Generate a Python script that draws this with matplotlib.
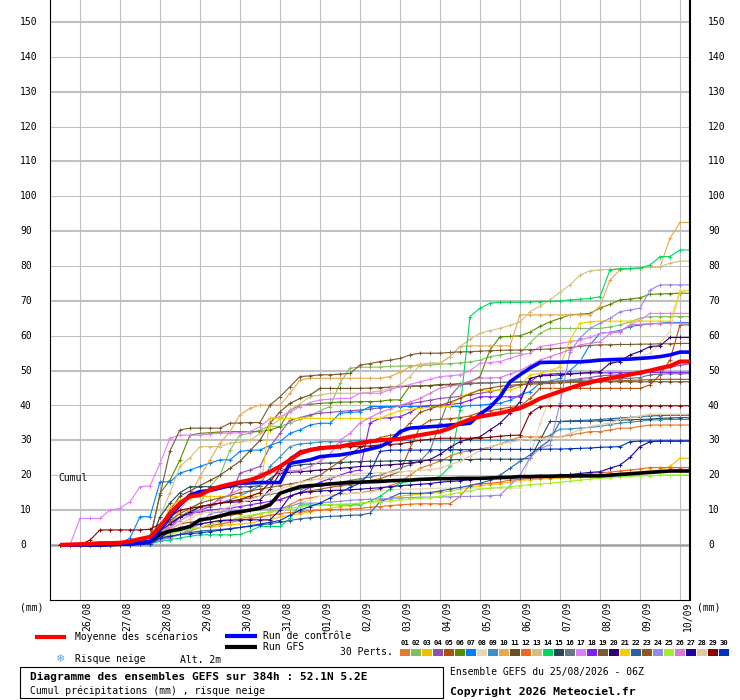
import matplotlib
matplotlib.use("Agg")
import matplotlib.pyplot as plt
from matplotlib.lines import Line2D
from matplotlib.patches import Rectangle

# ---------------- data ----------------
hours = list(range(6, 385, 6))          # forecast step (h) from 25/08 06Z
day_labels = ['26/08', '27/08', '28/08', '29/08', '30/08', '31/08', '01/09', '02/09',
              '03/09', '04/09', '05/09', '06/09', '07/09', '08/09', '09/09', '10/09']
y_ticks = [0, 10, 20, 30, 40, 50, 60, 70, 80, 90, 100, 110, 120, 130, 140, 150]

mean = [0, 0.1, 0.2, 0.3, 0.5, 0.5, 0.6, 1.0,
        1.7, 2.3, 5.2, 9.0, 12.0, 13.9, 14.3, 15.8,
        16.7, 17.4, 18.0, 18.6, 19.6, 21.0, 22.5, 24.4,
        26.3, 27.2, 27.7, 28.0, 28.2, 28.8, 29.2, 29.7,
        30.0, 30.2, 30.4, 31.0, 31.5, 32.0, 32.5, 33.5,
        34.9, 36.0, 36.8, 37.3, 37.8, 38.5, 39.2, 40.5,
        42.0, 43.0, 44.0, 45.0, 45.9, 46.6, 47.3, 47.8,
        48.3, 48.9, 49.4, 50.0, 50.7, 51.3, 52.6, 52.6]
control = [0, 0, 0, 0, 0, 0.1, 0.2, 0.3,
           0.5, 1.0, 4.3, 8.1, 11.5, 14.3, 15.3, 15.6,
           16.3, 17.0, 17.7, 17.8, 17.9, 17.9, 17.9, 23.4,
           23.9, 24.4, 25.3, 25.6, 25.8, 26.3, 26.8, 27.5,
           28.2, 29.6, 32.5, 33.5, 33.7, 33.9, 34.1, 34.4,
           34.6, 34.9, 37.5, 39.5, 42.5, 46.8, 48.8, 50.7,
           52.3, 52.4, 52.4, 52.5, 52.5, 52.7, 53.0, 53.1,
           53.2, 53.3, 53.5, 53.7, 54.0, 54.5, 55.3, 55.3]
gfs = [0, 0, 0, 0, 0, 0.1, 0.2, 0.3,
       0.5, 1.0, 3.0, 4.0, 4.5, 5.3, 7.2, 7.6,
       8.3, 9.1, 9.5, 10.0, 10.5, 11.5, 14.8, 15.8,
       16.7, 17.0, 17.2, 17.5, 17.7, 17.9, 18.0, 18.1,
       18.2, 18.4, 18.5, 18.6, 18.8, 18.9, 19.0, 19.0,
       19.1, 19.1, 19.1, 19.2, 19.3, 19.4, 19.6, 19.6,
       19.7, 19.7, 19.8, 19.8, 19.8, 19.8, 19.8, 20.0,
       20.2, 20.4, 20.6, 20.8, 21.0, 21.2, 21.2, 21.2]

p01 = [0, 0, 0, 0, 0, 0, 0.1, 0.2, 0.3, 0.5, 2.0, 3.5, 4.5, 5.0, 6.0, 6.5,
       7.0, 7.2, 7.5, 8.1, 9.0, 9.5, 10.0, 11.5, 13.0, 13.5, 14.0, 14.2, 14.5, 14.8, 15.0, 15.5,
       16.0, 17.0, 18.0, 20.0, 22.0, 23.0, 24.0, 25.5, 26.5, 27.0, 27.5, 28.0, 29.0, 30.0, 31.0, 31.0,
       31.0, 31.0, 31.0, 31.5, 32.0, 32.5, 32.5, 33.0, 33.5, 33.5, 34.0, 34.4, 34.4, 34.4, 34.4, 34.4]
p02 = [0, 0, 0, 0, 0, 0, 0.1, 0.3, 0.5, 1.0, 4.0, 7.0, 8.1, 10.0, 12.0, 16.7,
       20.0, 27.2, 31.5, 32.0, 33.0, 34.0, 34.0, 35.0, 36.0, 37.0, 38.5, 39.7, 46.4, 50.7, 51.0, 51.0,
       51.0, 51.2, 51.3, 51.4, 51.4, 51.6, 51.8, 52.0, 52.2, 52.5, 53.0, 54.0, 54.5, 55.0, 55.0, 58.0,
       60.7, 62.1, 62.1, 62.1, 62.1, 62.1, 62.1, 62.5, 63.1, 64.0, 65.0, 65.5, 65.5, 65.5, 65.5, 65.5]
p03 = [0, 0, 0, 0, 0, 0, 0, 0.1, 0.2, 0.3, 2.0, 3.0, 4.0, 4.5, 5.0, 5.2,
       5.5, 5.8, 6.0, 6.3, 6.8, 7.2, 8.0, 8.5, 9.0, 9.5, 10.0, 10.5, 11.0, 11.3, 12.0, 12.3,
       12.8, 13.3, 14.0, 14.3, 14.6, 14.8, 15.0, 15.5, 16.0, 16.5, 17.0, 17.3, 17.6, 18.0, 18.5, 18.7,
       18.9, 19.0, 19.1, 19.3, 19.5, 19.8, 20.0, 20.3, 20.6, 20.8, 21.0, 21.3, 21.5, 22.5, 24.9, 24.9]
p04 = [0, 0, 0, 0, 0, 0, 0.1, 0.2, 0.3, 0.5, 3.0, 6.0, 8.0, 9.0, 10.0, 11.0,
       13.5, 14.0, 20.6, 21.5, 22.5, 28.2, 32.0, 35.8, 36.5, 37.3, 37.8, 38.0, 38.3, 38.5, 38.7, 39.0,
       39.3, 39.6, 40.0, 40.5, 41.0, 41.5, 42.0, 42.3, 42.6, 43.0, 43.5, 44.0, 44.5, 45.2, 46.0, 46.3,
       46.6, 46.8, 47.0, 47.3, 47.7, 48.0, 48.5, 48.7, 48.8, 48.9, 49.0, 49.8, 50.5, 51.0, 51.5, 52.0]
p05 = [0, 0, 0, 0, 0, 0, 0.1, 0.2, 0.3, 0.5, 3.0, 4.5, 6.0, 6.5, 7.0, 7.5,
       8.0, 8.5, 9.0, 10.0, 11.0, 12.0, 13.0, 14.0, 15.0, 15.5, 16.0, 16.5, 17.0, 17.3, 18.0, 18.5,
       19.0, 20.0, 21.0, 27.7, 33.9, 35.8, 36.0, 36.2, 36.5, 37.0, 38.0, 38.5, 39.0, 39.5, 39.7, 42.0,
       44.9, 44.9, 44.9, 44.9, 44.9, 44.9, 44.9, 44.9, 44.9, 44.9, 44.9, 45.9, 48.8, 53.0, 63.1, 63.1]
p06 = [0, 0, 0, 0, 0, 0, 0.1, 0.3, 0.5, 1.0, 14.8, 18.6, 24.4, 31.5, 32.0, 32.2,
       32.4, 32.5, 32.5, 32.5, 32.5, 33.0, 33.9, 38.7, 40.0, 40.3, 40.6, 40.8, 41.0, 41.0, 41.1, 41.1,
       41.2, 41.6, 41.6, 45.6, 45.6, 45.7, 45.9, 45.9, 46.2, 46.8, 48.3, 55.9, 59.7, 59.8, 60.0, 61.0,
       62.7, 64.0, 65.0, 66.0, 66.2, 66.4, 67.9, 69.0, 70.3, 70.5, 70.9, 71.9, 72.0, 72.1, 72.2, 72.2]
p07 = [0, 0, 0, 0, 0, 0, 0.3, 2.0, 8.1, 8.1, 18.1, 18.1, 20.6, 21.5, 22.5, 23.5,
       24.4, 24.4, 26.8, 27.2, 27.2, 28.5, 29.6, 32.0, 33.0, 34.4, 34.9, 34.9, 37.8, 38.0, 38.2, 39.7,
       39.7, 39.7, 39.7, 39.7, 39.7, 39.7, 39.7, 39.7, 39.7, 40.0, 40.1, 40.4, 40.6, 41.5, 43.0, 44.0,
       46.4, 47.0, 47.8, 50.0, 52.6, 57.4, 60.7, 61.0, 61.5, 62.6, 63.1, 63.4, 63.6, 63.8, 63.8, 63.8]
p08 = [0, 0, 0, 0, 0, 0, 0, 0.1, 0.2, 0.5, 2.0, 3.0, 4.0, 4.5, 5.0, 5.5,
       6.0, 6.5, 7.0, 7.5, 8.0, 9.0, 10.0, 11.0, 12.0, 13.0, 14.0, 14.3, 14.5, 14.8, 15.0, 15.2,
       15.5, 15.8, 16.0, 16.0, 16.1, 16.2, 16.3, 16.3, 16.3, 16.3, 16.3, 16.3, 16.3, 16.3, 16.3, 25.3,
       34.9, 42.0, 52.1, 52.6, 53.0, 53.2, 53.5, 53.6, 53.8, 53.9, 54.0, 55.0, 57.8, 61.2, 73.0, 73.0]
p09 = [0, 0, 0, 0, 0, 0, 0.1, 0.2, 0.3, 0.5, 3.0, 6.0, 8.0, 9.0, 10.0, 11.0,
       12.0, 13.0, 14.0, 15.5, 17.0, 22.5, 25.3, 28.2, 29.0, 29.2, 29.6, 29.6, 29.6, 29.8, 30.0, 30.0,
       30.0, 30.0, 30.0, 30.0, 30.0, 30.0, 30.0, 30.0, 30.0, 30.0, 30.0, 30.0, 30.0, 30.0, 30.0, 30.0,
       30.1, 31.5, 33.2, 33.3, 33.5, 33.7, 34.0, 34.5, 35.0, 35.2, 35.5, 35.8, 35.9, 36.0, 36.0, 36.0]
p10 = [0, 0, 0, 0, 0, 0, 0.1, 0.2, 0.3, 0.5, 3.0, 6.0, 10.0, 14.0, 19.6, 24.4,
       29.2, 32.5, 37.3, 39.2, 40.1, 40.1, 40.1, 43.5, 47.3, 47.8, 47.8, 47.8, 47.8, 47.8, 47.8, 47.8,
       47.8, 48.3, 49.5, 51.1, 51.8, 52.1, 52.1, 54.0, 56.9, 57.1, 57.1, 57.1, 57.1, 57.1, 66.0, 66.0,
       66.0, 66.0, 66.0, 66.0, 66.0, 66.0, 68.4, 76.0, 78.9, 79.2, 79.4, 79.6, 79.8, 88.0, 92.5, 92.5]
p11 = [0, 0, 0, 0, 0, 0, 0.1, 0.3, 0.5, 1.0, 5.0, 10.0, 14.0, 15.5, 17.0, 18.5,
       20.0, 22.0, 24.0, 27.0, 30.0, 34.9, 38.2, 40.6, 42.0, 43.0, 44.9, 44.9, 44.9, 44.9, 44.9, 45.0,
       45.1, 45.3, 45.4, 45.5, 45.6, 45.7, 46.0, 46.1, 46.2, 46.3, 46.5, 46.5, 46.6, 46.6, 46.7, 46.7,
       46.7, 46.7, 46.8, 46.8, 46.8, 46.8, 46.8, 46.8, 46.8, 46.8, 46.8, 46.8, 46.8, 46.8, 46.8, 46.8]
p12 = [0, 0, 0, 0, 0, 0, 0, 0.1, 0.2, 0.5, 2.0, 2.5, 3.0, 4.0, 5.0, 5.5,
       6.0, 6.5, 7.0, 7.5, 8.0, 8.5, 9.0, 9.3, 9.5, 9.8, 10.0, 10.1, 10.2, 10.3, 10.5, 10.8,
       11.0, 11.3, 11.5, 11.7, 11.8, 11.8, 11.8, 11.8, 13.9, 17.2, 17.5, 17.7, 18.0, 18.6, 18.8, 19.1,
       19.2, 19.3, 19.4, 19.6, 20.0, 20.6, 20.7, 20.9, 21.2, 21.5, 21.8, 22.2, 22.2, 22.2, 22.2, 22.2]
p13 = [0, 0, 0, 0, 0, 0, 0.1, 0.3, 0.5, 1.0, 8.0, 15.0, 22.5, 25.0, 28.2, 28.2,
       28.2, 29.2, 29.5, 30.0, 32.0, 34.0, 36.0, 38.7, 40.5, 42.5, 43.0, 43.5, 43.5, 43.5, 43.5, 43.8,
       44.2, 44.9, 46.0, 48.3, 51.6, 52.1, 52.1, 54.0, 56.9, 59.0, 60.7, 61.5, 62.1, 63.0, 64.0, 66.9,
       68.5, 70.3, 72.5, 74.6, 77.4, 78.6, 78.9, 79.0, 79.2, 79.3, 79.5, 79.6, 79.8, 80.8, 81.4, 81.4]
p14 = [0, 0, 0, 0, 0, 0, 0, 0.1, 0.2, 0.3, 1.0, 1.5, 2.0, 2.5, 2.9, 2.9,
       2.9, 2.9, 3.0, 4.0, 5.3, 5.3, 5.3, 7.6, 11.5, 11.5, 11.5, 11.5, 11.5, 11.5, 11.5, 12.5,
       13.9, 16.0, 17.7, 18.2, 18.6, 19.0, 19.6, 22.5, 38.7, 65.5, 67.9, 69.3, 69.6, 69.6, 69.6, 69.7,
       69.8, 69.9, 70.0, 70.3, 70.5, 70.7, 71.2, 78.9, 79.2, 79.3, 79.4, 80.3, 82.7, 82.7, 84.6, 84.6]
p15 = [0, 0, 0, 0, 0, 0, 0.1, 0.2, 0.3, 0.5, 8.0, 12.0, 15.0, 16.7, 16.7, 16.7,
       16.7, 16.7, 16.7, 16.7, 17.0, 19.0, 21.0, 22.5, 23.0, 23.2, 23.4, 23.5, 23.6, 23.8, 23.9, 24.0,
       24.0, 24.1, 24.2, 24.2, 24.3, 24.3, 24.4, 24.4, 24.5, 24.5, 24.6, 24.6, 24.6, 24.6, 24.6, 24.8,
       30.0, 35.4, 35.4, 35.4, 35.5, 35.5, 35.6, 35.7, 35.8, 35.9, 36.0, 36.1, 36.3, 36.4, 36.5, 36.5]
p16 = [0, 0, 0, 0, 0, 0, 0.1, 0.2, 0.3, 0.5, 5.0, 6.5, 8.0, 9.0, 11.0, 11.5,
       12.0, 12.5, 13.0, 13.5, 14.0, 14.5, 15.0, 15.5, 16.0, 16.5, 17.0, 17.5, 18.0, 18.5, 19.0, 19.5,
       20.0, 21.0, 22.0, 23.0, 24.0, 27.0, 35.0, 42.5, 45.9, 46.2, 46.4, 46.5, 46.6, 46.7, 46.8, 46.8,
       46.9, 46.9, 47.0, 47.1, 47.2, 47.3, 47.5, 47.6, 47.7, 47.8, 48.0, 48.8, 49.0, 49.1, 49.1, 49.1]
p17 = [0, 0, 7.6, 7.6, 7.6, 10.0, 10.5, 12.4, 16.7, 16.9, 23.4, 30.6, 31.5, 31.5, 31.5, 31.8,
       32.0, 32.1, 32.2, 32.5, 33.9, 36.3, 36.8, 38.0, 39.7, 40.8, 41.6, 41.8, 42.0, 42.0, 43.5, 43.5,
       43.5, 44.5, 45.4, 46.0, 46.8, 47.5, 48.3, 48.5, 48.8, 50.0, 52.1, 52.3, 52.6, 53.5, 54.5, 55.0,
       56.9, 57.3, 57.8, 58.3, 58.8, 59.5, 60.7, 61.0, 61.2, 63.1, 64.5, 66.4, 66.4, 66.4, 66.4, 66.4]
p18 = [0, 0, 0, 0, 0, 0, 0.1, 0.2, 0.3, 0.5, 3.0, 5.0, 8.0, 9.0, 9.5, 10.0,
       10.3, 10.6, 11.0, 11.5, 12.0, 12.5, 13.0, 14.0, 15.0, 16.5, 18.0, 19.0, 20.0, 21.0, 21.5, 35.0,
       36.3, 36.5, 36.8, 38.0, 39.7, 40.0, 40.1, 40.3, 40.6, 41.5, 42.5, 42.5, 42.5, 42.5, 42.5, 46.8,
       48.8, 49.0, 49.2, 49.2, 49.3, 49.3, 49.3, 49.4, 49.4, 49.4, 49.5, 49.5, 49.5, 49.5, 49.5, 49.5]
p19 = [0, 0, 0, 0, 0, 0, 0.2, 0.5, 1.0, 2.0, 14.3, 27.0, 33.0, 33.5, 33.5, 33.5,
       33.5, 34.9, 35.0, 35.1, 35.1, 40.1, 42.5, 45.4, 48.3, 48.5, 48.8, 48.8, 49.0, 49.2, 51.6, 52.0,
       52.6, 53.0, 53.5, 54.5, 55.0, 55.0, 55.0, 55.2, 55.4, 55.4, 55.6, 55.7, 55.8, 55.9, 55.9, 56.0,
       56.1, 56.2, 56.4, 56.6, 57.0, 57.2, 57.4, 57.4, 57.5, 57.5, 57.6, 57.6, 57.7, 57.7, 57.8, 57.8]
p20 = [0, 0, 0, 0, 0, 0, 0.1, 0.2, 0.3, 0.5, 4.0, 6.0, 8.0, 9.5, 11.0, 11.5,
       12.0, 12.2, 12.4, 12.6, 12.9, 16.0, 20.6, 20.8, 21.0, 21.2, 21.5, 21.7, 22.0, 22.2, 22.5, 22.6,
       22.8, 23.0, 23.2, 23.5, 23.9, 24.5, 26.0, 28.0, 29.6, 30.5, 31.0, 33.0, 34.9, 37.8, 41.0, 47.8,
       48.5, 48.6, 48.8, 49.0, 49.2, 49.5, 49.7, 52.1, 52.6, 54.5, 55.5, 56.9, 57.1, 59.5, 59.5, 59.5]
p21 = [0, 0, 0, 0, 0, 0, 0.1, 0.2, 0.3, 0.5, 4.3, 11.0, 12.9, 13.5, 13.9, 13.9,
       13.9, 13.9, 13.9, 13.9, 14.8, 36.3, 36.3, 36.3, 36.3, 36.3, 36.3, 36.3, 36.3, 36.3, 36.3, 36.3,
       36.3, 37.5, 38.5, 38.9, 39.2, 39.5, 39.7, 39.7, 42.5, 43.5, 44.4, 44.4, 44.4, 44.4, 45.4, 48.8,
       49.2, 50.0, 51.1, 58.8, 63.6, 64.0, 64.2, 64.2, 64.2, 64.2, 64.2, 64.2, 64.2, 64.2, 72.6, 73.1]
p22 = [0, 0, 0, 0, 0, 0, 0, 0.1, 0.2, 0.3, 1.5, 2.2, 3.0, 3.5, 4.0, 4.2,
       4.4, 4.7, 5.0, 5.3, 5.7, 6.1, 6.5, 7.0, 7.5, 7.8, 8.0, 8.2, 8.3, 8.5, 8.6, 9.1,
       12.4, 13.5, 14.8, 14.8, 14.8, 15.0, 15.5, 16.0, 16.5, 17.0, 17.7, 18.5, 20.0, 22.0, 24.0, 25.8,
       28.0, 30.1, 35.4, 35.6, 35.7, 35.8, 36.0, 36.2, 36.4, 36.6, 36.8, 37.0, 37.1, 37.2, 37.2, 37.2]
p23 = [0, 0, 0, 0, 0, 0, 0.1, 0.2, 0.3, 0.5, 4.0, 7.0, 9.0, 10.5, 12.0, 12.8,
       13.5, 14.2, 15.0, 15.5, 16.0, 16.5, 17.0, 17.5, 18.0, 19.0, 20.0, 22.0, 24.0, 26.0, 28.0, 29.5,
       30.8, 31.4, 32.0, 35.0, 38.0, 39.0, 40.0, 41.0, 42.0, 43.3, 44.5, 45.0, 45.5, 45.8, 46.0, 46.1,
       46.2, 46.3, 46.5, 46.6, 46.7, 46.8, 47.0, 47.0, 47.1, 47.2, 47.3, 47.4, 47.5, 47.5, 47.5, 47.5]
p24 = [0, 0, 0, 0, 0, 0, 0, 0.1, 0.2, 0.3, 1.5, 2.0, 3.0, 4.5, 6.0, 9.0,
       9.5, 9.8, 10.0, 10.1, 10.2, 10.3, 10.5, 11.0, 12.0, 12.0, 12.0, 12.3, 12.5, 12.8, 13.0, 13.1,
       13.2, 13.3, 13.5, 13.6, 13.7, 13.7, 13.8, 13.8, 13.9, 13.9, 14.0, 14.1, 14.3, 17.0, 20.0, 25.0,
       27.7, 28.7, 40.6, 55.4, 59.3, 62.1, 63.6, 65.0, 66.9, 67.4, 67.9, 73.1, 74.6, 74.6, 74.6, 74.6]
p25 = [0, 0, 0, 0, 0, 0, 0, 0.1, 0.2, 0.3, 2.0, 3.0, 4.0, 4.5, 5.0, 6.0,
       6.5, 7.0, 8.0, 8.5, 9.0, 9.5, 10.0, 10.5, 11.0, 11.2, 11.5, 11.6, 11.7, 11.8, 12.0, 12.2,
       12.4, 12.6, 13.0, 13.2, 13.4, 13.6, 14.0, 14.5, 15.0, 15.5, 16.0, 16.3, 16.5, 16.7, 17.0, 17.3,
       17.5, 17.7, 18.0, 18.3, 18.6, 18.9, 19.1, 19.3, 19.5, 19.7, 19.8, 19.9, 20.0, 20.1, 20.1, 20.1]
p26 = [0, 0, 0, 0, 0, 0, 0.1, 0.2, 0.3, 0.5, 3.0, 5.0, 7.0, 8.5, 10.0, 11.5,
       13.0, 14.5, 16.0, 18.0, 20.6, 20.8, 21.0, 21.2, 21.5, 22.5, 24.0, 26.0, 30.0, 32.0, 35.0, 36.5,
       38.0, 39.0, 40.0, 41.0, 42.0, 43.5, 45.0, 45.5, 46.0, 47.0, 47.8, 47.9, 48.0, 49.0, 50.0, 51.5,
       53.0, 54.0, 55.0, 56.0, 57.4, 57.8, 58.3, 60.7, 61.2, 63.1, 63.3, 63.4, 63.5, 63.6, 63.6, 63.6]
p27 = [0, 0, 0, 0, 0, 0, 0, 0.1, 0.2, 0.3, 2.0, 4.0, 5.0, 5.5, 6.0, 6.5,
       7.0, 7.1, 7.2, 7.2, 7.2, 7.2, 10.0, 14.0, 15.0, 15.2, 15.5, 15.6, 15.7, 15.8, 16.0, 16.2,
       16.4, 16.7, 17.0, 17.2, 17.4, 17.6, 18.0, 18.2, 18.4, 18.7, 19.0, 19.1, 19.2, 19.3, 19.5, 19.6,
       19.7, 19.8, 20.0, 20.2, 20.5, 20.8, 21.0, 22.0, 22.9, 25.1, 28.2, 29.6, 29.8, 29.8, 29.8, 29.8]
p28 = [0, 0, 0, 0, 0, 0, 0.1, 0.2, 0.3, 0.5, 3.0, 4.5, 6.0, 7.5, 9.0, 9.5,
       10.0, 11.0, 12.0, 13.0, 14.0, 15.0, 16.0, 17.0, 18.0, 18.5, 19.0, 19.5, 19.8, 20.0, 20.5, 20.6,
       20.7, 20.8, 21.0, 21.2, 21.4, 21.6, 22.0, 23.0, 24.0, 25.5, 27.0, 28.0, 29.0, 29.5, 30.0, 30.2,
       30.5, 30.8, 31.0, 32.0, 33.0, 34.0, 34.5, 35.0, 36.0, 36.5, 37.0, 37.5, 37.5, 37.5, 37.5, 37.5]
p29 = [0, 0, 0, 1.4, 4.3, 4.3, 4.3, 4.3, 4.3, 4.5, 6.0, 8.0, 10.0, 10.5, 11.0, 11.5,
       12.0, 12.5, 13.0, 14.0, 15.0, 18.0, 22.0, 25.0, 27.0, 27.6, 28.2, 28.2, 28.2, 28.2, 28.2, 28.4,
       28.7, 28.8, 29.0, 29.5, 30.0, 30.3, 30.6, 30.6, 30.6, 30.6, 30.6, 30.9, 31.2, 31.4, 31.5, 37.8,
       39.7, 39.9, 39.9, 39.9, 39.9, 39.9, 39.9, 39.9, 39.9, 39.9, 39.9, 39.9, 39.9, 39.9, 39.9, 39.9]
p30 = [0, 0, 0, 0, 0, 0, 0, 0.1, 0.2, 0.3, 2.0, 2.5, 3.0, 3.2, 3.5, 3.8,
       4.2, 4.6, 5.0, 5.5, 6.0, 6.5, 7.0, 8.5, 10.0, 11.0, 12.0, 13.5, 15.0, 16.5, 17.7, 20.6,
       26.8, 27.2, 27.2, 27.2, 27.2, 27.3, 27.3, 27.3, 27.3, 27.3, 27.4, 27.4, 27.4, 27.4, 27.4, 27.4,
       27.4, 27.5, 27.5, 27.6, 27.7, 27.8, 28.0, 28.1, 28.2, 29.6, 29.8, 29.8, 29.8, 29.8, 29.8, 29.8]

perts = [p01, p02, p03, p04, p05, p06, p07, p08, p09, p10, p11, p12, p13, p14, p15,
         p16, p17, p18, p19, p20, p21, p22, p23, p24, p25, p26, p27, p28, p29, p30]
pert_names = ['%02d' % (k + 1) for k in range(30)]
pert_colors = ['#e07b30', '#80c060', '#f0c000', '#9050b0', '#b05010', '#5a8a00', '#0080ff',
               '#e8d8b0', '#3a90c0', '#e8a850', '#6a5020', '#f06820', '#d0c080', '#00d860',
               '#284858', '#687880', '#e080f8', '#8020f0', '#7a5a30', '#300070', '#f0d000',
               '#2860a0', '#905820', '#9888e8', '#a0f030', '#d878d8', '#2000a0', '#e0c8a0',
               '#880000', '#0030c0']

# ---------------- figure ----------------
W, H = 740, 700
mono = 'DejaVu Sans Mono'
fig = plt.figure(figsize=(W / 100, H / 100), dpi=100)
fig.patch.set_facecolor('white')

def fx(px):
    return px / W

def fy(py):
    return 1 - py / H

ax = fig.add_axes([fx(50), fy(600), fx(690) - fx(50), fy(0) - fy(600)])
ax.set_xlim(0, 384)
ax.set_ylim(-15.8, 156.3)
for s in ['top']:
    ax.spines[s].set_visible(False)
ax.spines['left'].set_linewidth(0.8)
ax.spines['bottom'].set_linewidth(0.8)
ax.spines['right'].set_linewidth(1.5)
ax.set_xticks([])
ax.set_yticks([])

# grid
day_hours = [18 + 24 * k for k in range(len(day_labels))]
for h in day_hours:
    ax.axvline(h, color='#c0c0c0', lw=0.8, zorder=0)
for v in y_ticks[1:]:
    ax.axhline(v, color='#c0c0c0', lw=1.5 if (v // 10) % 2 == 1 else 0.75, zorder=0)
ax.axhline(0, color='#a0a0a0', lw=1.8, zorder=0)

# ensemble members
for vals, col in zip(perts, pert_colors):
    ax.plot(hours, vals, color=col, lw=0.8, marker='+', ms=3.2, mew=0.7, zorder=2)

ax.plot(hours, gfs, color='black', lw=2.6, zorder=3, solid_capstyle='butt')
ax.plot(hours, control, color='#0000ff', lw=2.6, zorder=4, solid_capstyle='butt')
ax.plot(hours, mean, color='#ff0000', lw=3.0, zorder=5, solid_capstyle='butt')

ax.text(fx(58 - 50) / (fx(690) - fx(50)) * 0 + 8 / 640 * 384, 19.3, 'Cumul',
        family=mono, fontsize=7, va='center', ha='left')

# y tick labels both sides
for v in y_ticks:
    yy = fy(545 - 3.487 * v)
    fig.text(fx(20), yy, str(v), family=mono, fontsize=7, va='center', ha='left')
    fig.text(fx(708), yy, str(v), family=mono, fontsize=7, va='center', ha='left')
fig.text(fx(20), fy(607), '(mm)', family=mono, fontsize=7, va='center', ha='left')
fig.text(fx(697), fy(607), '(mm)', family=mono, fontsize=7, va='center', ha='left')

# date labels
for h, lab in zip(day_hours, day_labels):
    xp = 50 + h * 40 / 24 + 7.5
    fig.text(fx(xp), fy(602), lab, family=mono, fontsize=7, rotation=90,
             va='top', ha='center')

# legend
def hline(x0, x1, y, color, lw):
    fig.add_artist(Line2D([fx(x0), fx(x1)], [fy(y), fy(y)], color=color, lw=lw,
                          transform=fig.transFigure, solid_capstyle='butt'))

hline(35, 66, 637, '#ff0000', 3.0)
fig.text(fx(75), fy(637), 'Moyenne des scénarios', family=mono, fontsize=7, va='center')
hline(225, 257, 636, '#0000ff', 3.0)
fig.text(fx(263), fy(636), 'Run de contrôle', family=mono, fontsize=7, va='center')
hline(225, 257, 647, 'black', 3.0)
fig.text(fx(263), fy(647), 'Run GFS', family=mono, fontsize=7, va='center')
fig.text(fx(340), fy(652), '30 Perts.', family=mono, fontsize=7, va='center')

for k, (name, col) in enumerate(zip(pert_names, pert_colors)):
    x0 = 400 + 11 * k
    fig.text(fx(x0 + 5), fy(643), name, family=mono, fontsize=5.2, weight='bold',
             va='center', ha='center')
    fig.add_artist(Rectangle((fx(x0), fy(656)), fx(10), fy(649) - fy(656),
                             transform=fig.transFigure, color=col, lw=0))

fig.text(fx(60), fy(659), '\u2744', family='DejaVu Sans', fontsize=8, color='#5aaaf0',
         va='center', ha='center')
fig.text(fx(75), fy(659), 'Risque neige', family=mono, fontsize=7, va='center')
fig.text(fx(180), fy(660), 'Alt. 2m', family=mono, fontsize=7, va='center')

fig.add_artist(Rectangle((fx(20), fy(698)), fx(443) - fx(20), fy(667) - fy(698),
                         transform=fig.transFigure, fill=False, edgecolor='black', lw=0.8))
fig.text(fx(30), fy(677), 'Diagramme des ensembles GEFS sur 384h : 52.1N 5.2E',
         family=mono, fontsize=8, weight='bold', va='center')
fig.text(fx(30), fy(691), 'Cumul précipitations (mm) , risque neige',
         family=mono, fontsize=7, va='center')
fig.text(fx(450), fy(672), 'Ensemble GEFS du 25/08/2026 - 06Z',
         family=mono, fontsize=7, va='center')
fig.text(fx(450), fy(692), 'Copyright 2026 Meteociel.fr',
         family=mono, fontsize=8.2, weight='bold', va='center')

fig.savefig('out.png', dpi=100)
